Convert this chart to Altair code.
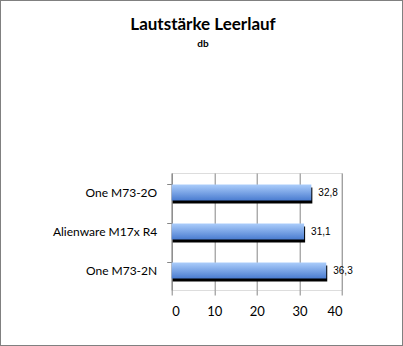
import altair as alt
import pandas as pd

categories = ["One M73-2O", "Alienware M17x R4", "One M73-2N"]
values = [32.8, 31.1, 36.3]
x_ticks = [0, 10, 20, 30, 40]
title_text = "Lautstärke Leerlauf"
subtitle_text = "db"

df = pd.DataFrame({"cat": categories, "val": values})

FONT = "Lato"
GRID = "#868686"

y_enc = alt.Y("cat:N", sort=categories, title=None,
              scale=alt.Scale(paddingInner=0.59, paddingOuter=0.295),
              axis=alt.Axis(domainColor=GRID, tickColor=GRID, tickSize=5,
                            bandPosition=0, labelFont=FONT, labelFontSize=12,
                            labelColor="#000000", labelPadding=10, grid=False))
x_enc = alt.X("val:Q", title=None,
              scale=alt.Scale(domain=[0, 40], nice=False),
              axis=alt.Axis(values=x_ticks, grid=True, gridColor=GRID, domain=False,
                            tickColor=GRID, tickSize=5, labelFont=FONT, labelFontSize=13,
                            labelColor="#000000", labelPadding=10))

base = alt.Chart(df)

shadow = base.mark_bar(color="#000000", size=16, xOffset=1, x2Offset=3,
                       yOffset=3, y2Offset=3).encode(x=x_enc, y=y_enc)

grad = alt.Gradient(gradient="linear",
                    stops=[alt.GradientStop(color="#abcdfb", offset=0),
                           alt.GradientStop(color="#4a7cd0", offset=1)],
                    x1=0, x2=0, y1=0, y2=1)
bars = base.mark_bar(color=grad, size=16).encode(x=x_enc, y=y_enc)

labels = base.transform_calculate(
    lbl="replace(format(datum.val, '.1f'), '.', ',')"
).mark_text(align="left", baseline="middle", dx=7, dy=0, font="Arial",
            fontSize=10, color="#000000").encode(x="val:Q", y=alt.Y("cat:N", sort=categories), text="lbl:N")

title_df = pd.DataFrame({"t": [title_text]})
sub_df = pd.DataFrame({"t": [subtitle_text]})
title_mark = alt.Chart(title_df).mark_text(
    align="center", baseline="alphabetic", font=FONT, fontSize=17,
    fontWeight="bold", color="#000000").encode(
    x=alt.value(203 - 171.7), y=alt.value(30 - 173), text="t:N")
sub_mark = alt.Chart(sub_df).mark_text(
    align="center", baseline="alphabetic", font=FONT, fontSize=10,
    fontWeight="bold", color="#000000").encode(
    x=alt.value(203 - 171.7), y=alt.value(47 - 173), text="t:N")

border = alt.Chart(df).mark_rect(fill=None, stroke="#808080", strokeWidth=2).encode(
    x=alt.value(-171.7), x2=alt.value(231.3), y=alt.value(-173), y2=alt.value(173))

chart = alt.layer(shadow, bars, labels, title_mark, sub_mark, border).properties(
    width=170.3, height=117,
    autosize=alt.AutoSizeParams(type="none"),
    padding={"left": 171.7, "top": 173, "right": 61, "bottom": 56},
).configure_view(stroke=None).configure(background="#ffffff")

chart.save("out.html", embed_options={"renderer": "svg", "actions": False})
